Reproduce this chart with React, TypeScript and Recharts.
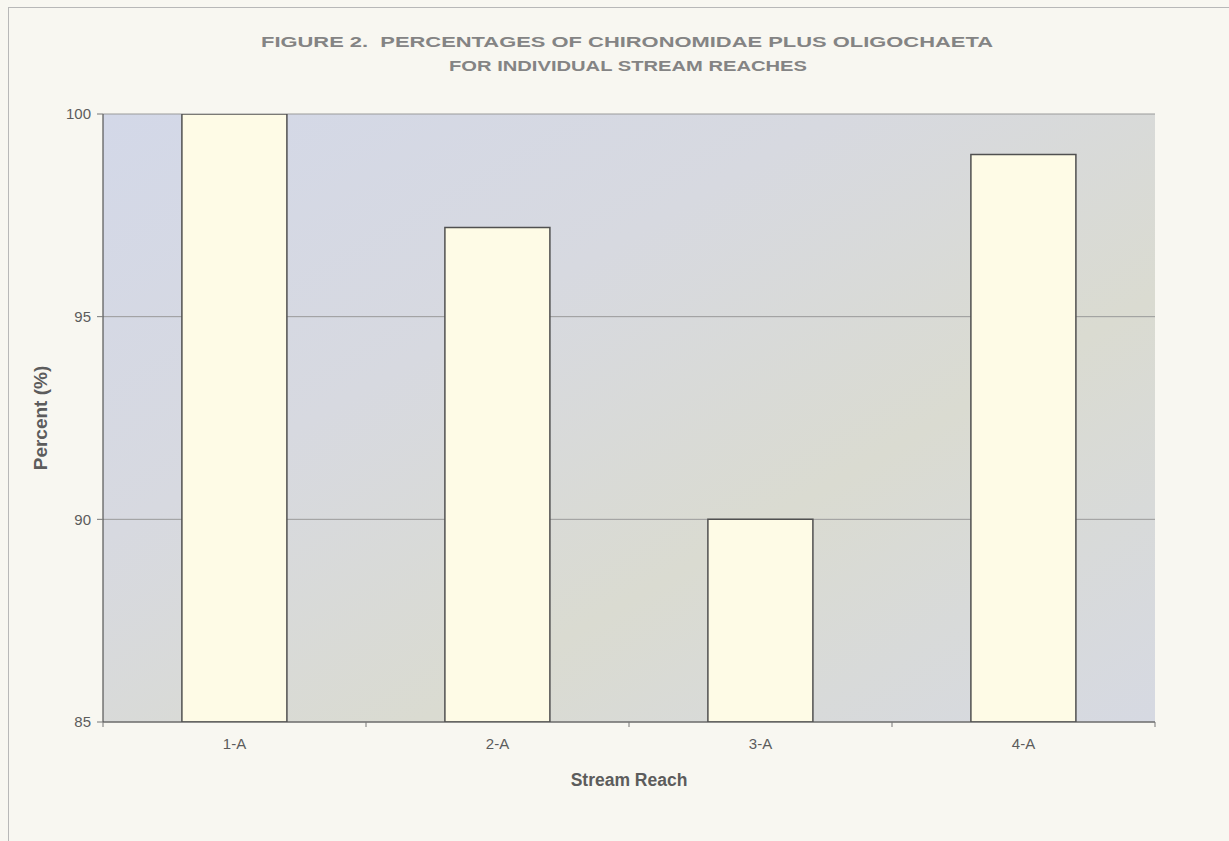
import { Bar, BarChart, CartesianGrid, Label, XAxis, YAxis } from 'recharts'

const reaches = ['1-A', '2-A', '3-A', '4-A']
const percents = [100, 97.2, 90.0, 99.0]
const yTicks = [85, 90, 95, 100]

const data = reaches.map((reach, i) => ({ reach, pct: percents[i] }))

const TEXT = '#5c5c5c'
const FONT = '"Liberation Sans", Arial, sans-serif'
const TICK_GAP = 9

// category label plus Excel-style tick marks on the band edges
function ReachTick(props: any) {
  const { x, y, payload, index, visibleTicksCount } = props
  const half = payload?.offset ?? 0
  const axisY = y - TICK_GAP
  const isLast = index === visibleTicksCount - 1
  return (
    <g>
      <line x1={x - half} x2={x - half} y1={axisY} y2={axisY + 5} stroke="#777" />
      {isLast && <line x1={x + half} x2={x + half} y1={axisY} y2={axisY + 5} stroke="#777" />}
      <text x={x} y={y} dy="1.2em" textAnchor="middle" fontSize={15} fill={TEXT} fontFamily={FONT}>
        {payload.value}
      </text>
    </g>
  )
}

export default function App() {
  return (
    <div
      style={{
        position: 'absolute',
        left: 0,
        top: 0,
        width: 1229,
        height: 841,
        background: '#f8f7f1',
        fontFamily: FONT,
      }}
    >
      <div
        style={{
          position: 'absolute',
          left: 8,
          top: 7,
          width: 1221,
          height: 834,
          borderLeft: '1px solid #b8b8b8',
          borderTop: '1px solid #b8b8b8',
        }}
      />
      <svg width={1229} height={100} style={{ position: 'absolute', left: 0, top: 0 }}>
        <text
          x={627}
          y={47}
          textAnchor="middle"
          fontSize={14.5}
          fontWeight="bold"
          fill="#848484"
          fontFamily={FONT}
          textLength={732}
          lengthAdjust="spacingAndGlyphs"
          style={{ whiteSpace: 'pre' }}
        >
          FIGURE 2.  PERCENTAGES OF CHIRONOMIDAE PLUS OLIGOCHAETA
        </text>
        <text
          x={628}
          y={71}
          textAnchor="middle"
          fontSize={14.5}
          fontWeight="bold"
          fill="#848484"
          fontFamily={FONT}
          textLength={358}
          lengthAdjust="spacingAndGlyphs"
        >
          FOR INDIVIDUAL STREAM REACHES
        </text>
      </svg>
      <div style={{ position: 'absolute', left: 0, top: 0 }}>
        <BarChart
          width={1229}
          height={841}
          data={data}
          margin={{ top: 114, right: 74, left: 33, bottom: 39 }}
          barCategoryGap="30%"
        >
          <defs>
            <linearGradient id="plotBg" x1="0" y1="0" x2="1" y2="1">
              <stop offset="0%" stopColor="#d3d8e8" />
              <stop offset="35%" stopColor="#d7d9e0" />
              <stop offset="65%" stopColor="#dadbd1" />
              <stop offset="100%" stopColor="#d6d9e2" />
            </linearGradient>
          </defs>
          <CartesianGrid
            vertical={false}
            stroke="#9a9a9a"
            strokeWidth={1}
            fill="url(#plotBg)"
            fillOpacity={1}
          />
          <XAxis
            dataKey="reach"
            tickLine={false}
            tickSize={0}
            tickMargin={TICK_GAP}
            axisLine={{ stroke: '#555', strokeWidth: 1.2 }}
            tick={<ReachTick />}
            interval={0}
            height={80}
          >
            <Label
              value="Stream Reach"
              position="insideBottom"
              offset={16}
              style={{ fontSize: 17.5, fontWeight: 'bold', fill: TEXT, fontFamily: FONT }}
            />
          </XAxis>
          <YAxis
            domain={[85, 100]}
            ticks={yTicks}
            width={70}
            axisLine={{ stroke: '#555', strokeWidth: 1.2 }}
            tickLine={{ stroke: '#777' }}
            tickSize={6}
            tickMargin={6}
            tick={{ fontSize: 15, fill: TEXT, fontFamily: FONT }}
            allowDataOverflow
          >
            <Label
              value="Percent (%)"
              angle={-90}
              position="insideLeft"
              offset={7}
              style={{ fontSize: 19, fontWeight: 'bold', fill: TEXT, fontFamily: FONT, textAnchor: 'middle' }}
            />
          </YAxis>
          <Bar
            dataKey="pct"
            fill="#fefbe6"
            stroke="#505050"
            strokeWidth={1.5}
            isAnimationActive={false}
          />
        </BarChart>
      </div>
    </div>
  )
}
